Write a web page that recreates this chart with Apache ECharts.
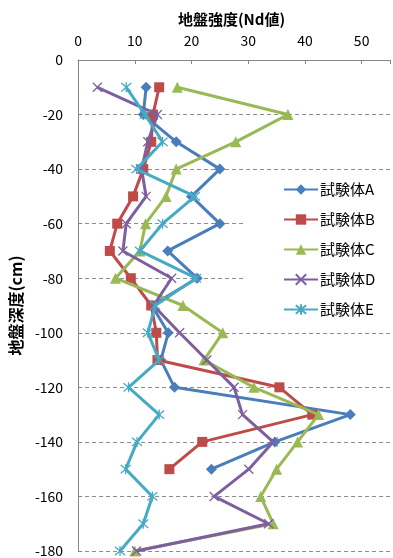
<!DOCTYPE html>
<html>
<head>
<meta charset="utf-8">
<script src="https://cdn.jsdelivr.net/npm/echarts@6/dist/echarts.min.js"></script>
<style>
  html, body { margin: 0; padding: 0; background: #fff; }
  #chart { width: 393px; height: 558px; }
</style>
</head>
<body>
<div id="chart"></div>
<script>
// Depth of each measurement (cm, negative = below surface)
const depths = [-10, -20, -30, -40, -50, -60, -70, -80, -90, -100, -110, -120, -130, -140, -150, -160, -170, -180];

// Ground strength (Nd value) per specimen, top to bottom
const seriesNames = ['試験体A', '試験体B', '試験体C', '試験体D', '試験体E'];
const specimenA = [12, 11.5, 17.3, 25, 20, 25, 15.8, 21, 13, 15.9, 14.6, 17, 48, 34.7, 23.5];
const specimenB = [14.3, 13.2, 12.9, 11.5, 9.7, 6.9, 5.6, 9.3, 12.9, 13.8, 14, 35.5, 41.3, 21.9, 16.1];
const specimenC = [17.5, 37, 27.8, 17.3, 15.5, 11.9, 10.9, 6.6, 18.5, 25.5, 22.2, 31, 42.4, 38.7, 35, 32.2, 34.4, 10];
const specimenD = [3.4, 14, 12.3, 11.2, 12, 8.5, 7.9, 16.5, 13.3, 17.9, 22.7, 27.5, 29, 34.4, 30.1, 24, 33.6, 10.3];
const specimenE = [8.5, 11.8, 14.9, 10.3, 20.6, 14.9, 10.9, 20.8, 13.6, 12.3, 14.3, 8.9, 14.3, 10.4, 8.4, 13.1, 11.5, 7.4];

const xTicks = [0, 10, 20, 30, 40, 50];
const yTicks = [0, -20, -40, -60, -80, -100, -120, -140, -160, -180];

const colors = ['#4A7EBB', '#BE4B48', '#98B954', '#7D5FA0', '#46AAC5'];
const FONT = "'Noto Sans CJK JP', 'Noto Sans', sans-serif";

const xMark = 'path://M0,0L10,10M10,0L0,10';
const starMark = 'path://M0,0L10,10M10,0L0,10M5,-1L5,11';

const symbolDefs = [
  { symbol: 'diamond', size: 11, stroke: 0 },
  { symbol: 'rect', size: 10, stroke: 0 },
  { symbol: 'triangle', size: 11, stroke: 0 },
  { symbol: xMark, size: 9, stroke: 1.3 },
  { symbol: starMark, size: 10, stroke: 1.3 }
];

const values = [specimenA, specimenB, specimenC, specimenD, specimenE];

const series = values.map((vals, i) => ({
  name: seriesNames[i],
  type: 'line',
  data: vals.map((v, k) => [v, depths[k]]),
  symbol: symbolDefs[i].symbol,
  symbolSize: symbolDefs[i].size,
  showAllSymbol: true,
  lineStyle: { color: colors[i], width: 3 },
  itemStyle: {
    color: colors[i],
    borderColor: colors[i],
    borderWidth: symbolDefs[i].stroke
  },
  emphasis: { disabled: true },
  animation: false,
  z: 2 + i
}));

const chart = echarts.init(document.getElementById('chart'), null, { renderer: 'canvas' });
chart.setOption({
  animation: false,
  grid: { left: 77, top: 60, right: -3.3, bottom: 5.5, containLabel: false },
  xAxis: {
    type: 'value',
    position: 'top',
    min: 0,
    max: 55,
    interval: 10,
    name: '地盤強度(Nd値)',
    nameLocation: 'middle',
    nameGap: 33,
    nameTextStyle: { fontFamily: FONT, fontSize: 15, fontWeight: 'bold', color: '#000', padding: [0, 5, 0, 0] },
    axisLine: { show: true, lineStyle: { color: '#868686', width: 1 } },
    axisTick: { show: true, inside: true, length: 4, lineStyle: { color: '#868686' } },
    axisLabel: {
      fontFamily: FONT, fontSize: 14, color: '#000', margin: 12,
      formatter: v => (xTicks.includes(v) ? String(v) : '')
    },
    splitLine: { show: false }
  },
  yAxis: {
    type: 'value',
    min: -180,
    max: 0,
    interval: 20,
    name: '地盤深度(cm)',
    nameLocation: 'middle',
    nameGap: 53,
    nameTextStyle: { fontFamily: FONT, fontSize: 16, fontWeight: 'bold', color: '#000' },
    axisLine: { show: true, lineStyle: { color: '#868686', width: 1 } },
    axisTick: { show: true, inside: true, length: 4, lineStyle: { color: '#868686' } },
    axisLabel: {
      fontFamily: FONT, fontSize: 14, color: '#000', margin: 15,
      formatter: v => (yTicks.includes(v) ? String(v) : '')
    },
    splitLine: { show: true, lineStyle: { color: '#8C8C8C', type: [4, 3], width: 1 } }
  },
  legend: {
    orient: 'vertical',
    left: 243,
    top: 175,
    padding: [7, 16, 6, 40],
    backgroundColor: '#fff',
    itemWidth: 34,
    itemHeight: 13,
    itemGap: 15,
    textStyle: { fontFamily: FONT, fontSize: 15, color: '#000', padding: [0, 0, 0, -3] },
    data: seriesNames
  },
  series: series
});
</script>
</body>
</html>
